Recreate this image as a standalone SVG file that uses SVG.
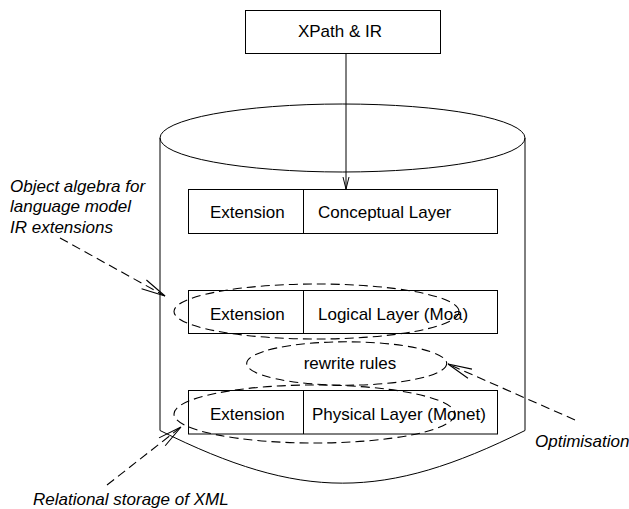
<svg xmlns="http://www.w3.org/2000/svg" width="629" height="509" viewBox="0 0 629 509">
<style>
.ln{fill:none;stroke:#000;stroke-width:1}
.box{fill:#fff;stroke:#000;stroke-width:1}
.dash{fill:none;stroke:#000;stroke-width:1.1;stroke-dasharray:9 5}
.t{font-family:"Liberation Sans",Arial,sans-serif;font-size:17px;fill:#000}
.it{font-family:"Liberation Sans",Arial,sans-serif;font-size:17px;font-style:italic;fill:#000}
</style>
<defs>
<marker id="big" markerUnits="userSpaceOnUse" orient="auto" refX="0" refY="0" markerWidth="30" markerHeight="30" overflow="visible">
<path d="M-24,-5 L0,0 L-24,5" fill="none" stroke="#000" stroke-width="1.1" stroke-dasharray="none"/>
</marker>
<marker id="small" markerUnits="userSpaceOnUse" orient="auto" refX="0" refY="0" markerWidth="20" markerHeight="20" overflow="visible">
<path d="M-12,-3 L0,0 L-12,3" fill="none" stroke="#000" stroke-width="1" stroke-dasharray="none"/>
</marker>
</defs>
<rect width="629" height="509" fill="#fff"/>
<g id="cylinder">
<ellipse class="ln" cx="342.5" cy="138" rx="182.5" ry="34"/>
<path class="ln" d="M160,138 V430.5 C301,500.7 384,500.7 525,430.5 V138"/>
</g>
<g id="xpath">
<rect class="box" x="245.5" y="10.5" width="195" height="43"/>
<text class="t" x="340" y="37" text-anchor="middle">XPath &amp; IR</text>
</g>
<g id="conceptual">
<rect class="box" x="188.5" y="189.5" width="309" height="44"/>
<line class="ln" x1="303.5" y1="189.5" x2="303.5" y2="233.5"/>
<text class="t" x="210" y="218">Extension</text>
<text class="t" x="318" y="218">Conceptual Layer</text>
</g>
<g id="logical">
<rect class="box" x="188.5" y="290.5" width="309" height="43"/>
<line class="ln" x1="303.5" y1="290.5" x2="303.5" y2="333.5"/>
<text class="t" x="210" y="320">Extension</text>
<text class="t" x="318" y="320">Logical Layer (Moa)</text>
</g>
<g id="physical">
<rect class="box" x="188.5" y="390.5" width="309" height="43.5"/>
<line class="ln" x1="303.5" y1="390.5" x2="303.5" y2="434"/>
<text class="t" x="210" y="420">Extension</text>
<text class="t" x="312" y="420">Physical Layer (Monet)</text>
</g>
<g id="logical-group">
<ellipse class="dash" cx="316.5" cy="311.5" rx="142.5" ry="27.5"/>
</g>
<g id="rewrite">
<ellipse class="dash" cx="346.7" cy="363.5" rx="100" ry="21.7"/>
<text class="t" x="350" y="369" text-anchor="middle">rewrite rules</text>
</g>
<g id="physical-group">
<ellipse class="dash" cx="314.5" cy="414" rx="140.5" ry="29"/>
</g>
<g id="label-object">
<text class="it" x="10" y="192">Object algebra for</text>
<text class="it" x="10" y="212">language model</text>
<text class="it" x="10" y="233">IR extensions</text>
</g>
<g id="label-relational">
<text class="it" x="33" y="505">Relational storage of XML</text>
</g>
<g id="label-optimisation">
<text class="it" x="535" y="447">Optimisation</text>
</g>
<g id="connectors">
<line class="ln" x1="346" y1="53.5" x2="346" y2="189" marker-end="url(#small)"/>
<line class="dash" x1="60" y1="238" x2="165" y2="296" marker-end="url(#big)"/>
<line class="dash" x1="107" y1="485" x2="181" y2="427" marker-end="url(#big)"/>
<line class="dash" x1="575" y1="420" x2="448" y2="364" marker-end="url(#big)"/>
</g>
</svg>
